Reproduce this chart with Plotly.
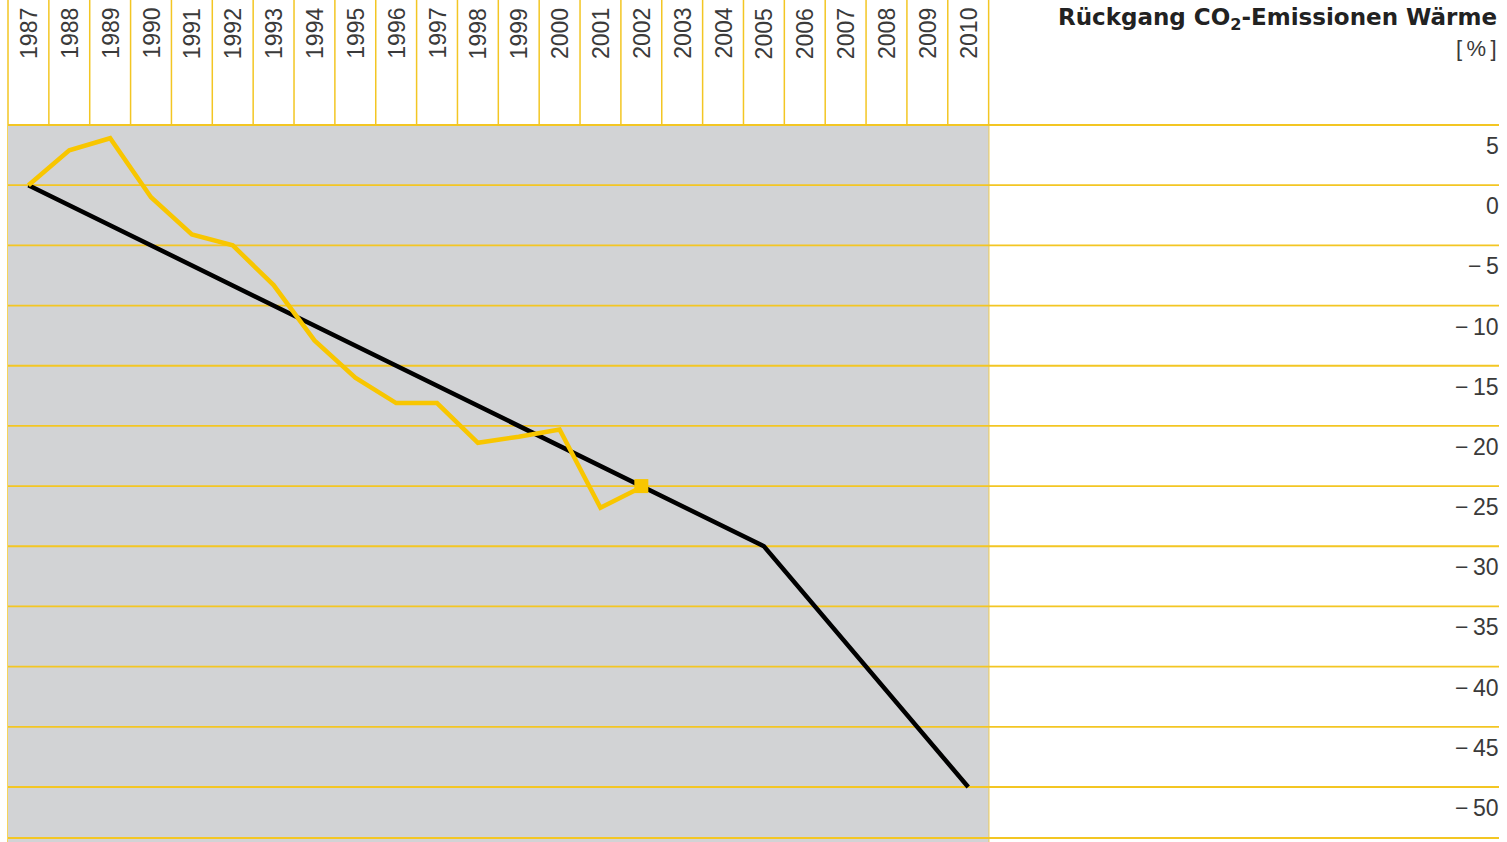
import plotly.graph_objects as go

years = list(range(1987, 2011))
year_labels = [str(y) for y in years]

# Target path (black)
target_years = [1987, 2005, 2010]
target_values = [0, -30, -50]

# Actual CO2 reduction (yellow)
actual_years = list(range(1987, 2003))
actual_values = [0, 2.9, 3.9, -1.0, -4.1, -5.0, -8.3, -12.9, -16.0, -18.1, -18.1,
                 -21.4, -20.9, -20.3, -26.8, -25.1]

# Last reported value (square marker)
last_year = [2002]
last_value = [-25.0]

y_ticks = [5, 0, -5, -10, -15, -20, -25, -30, -35, -40, -45, -50]
y_tick_labels = ["5", "0", "\u2212\u20095", "\u2212\u200910", "\u2212\u200915", "\u2212\u200920",
                 "\u2212\u200925", "\u2212\u200930", "\u2212\u200935", "\u2212\u200940",
                 "\u2212\u200945", "\u2212\u200950"]

title_text = "<b>Rückgang CO<sub>2</sub>-Emissionen Wärme</b>"
unit_text = "[\u2009%\u2009]"

GRAY = "#d2d3d5"
GRID = "#f3c623"
YEL = "#f8c600"
TXT = "#3a3a3a"
FONT = "Liberation Sans, Arial, Helvetica, sans-serif"
TFONT = "DejaVu Sans, Liberation Sans, Arial, sans-serif"

px_per_year = 40.86
px_per_unit = 12.036
x_left = 1986.5 - 8 / px_per_year
x_right = 1986.5 + (1507 - 8) / px_per_year
y_top = 5 + 125 / px_per_unit
y_bot = -50 - 55 / px_per_unit
x_grid_end = 1986.5 + (1499 - 8) / px_per_year
y_bottom_line = -50 - 51 / px_per_unit

fig = go.Figure()

shapes = []
# gray panel
shapes.append(dict(type="rect", xref="x", yref="y", x0=years[0] - 0.5, x1=years[-1] + 0.5,
                   y0=y_bot - 1, y1=y_ticks[0], fillcolor=GRAY, line=dict(width=0), layer="below"))
# vertical year lines
for k in range(len(years) + 1):
    xv = years[0] - 0.5 + k
    shapes.append(dict(type="line", xref="x", yref="paper", x0=xv, x1=xv, y0=0, y1=1,
                       line=dict(color=GRID, width=1.5), layer="below"))
# horizontal lines
for yv in y_ticks + [y_bottom_line]:
    shapes.append(dict(type="line", xref="x", yref="y", x0=years[0] - 0.5, x1=x_grid_end,
                       y0=yv, y1=yv, line=dict(color=GRID, width=1.8), layer="below"))

fig.add_trace(go.Scatter(x=target_years, y=target_values, mode="lines",
                         line=dict(color="#000000", width=4.5), hoverinfo="skip"))
fig.add_trace(go.Scatter(x=actual_years, y=actual_values, mode="lines",
                         line=dict(color=YEL, width=4.5), hoverinfo="skip"))
fig.add_trace(go.Scatter(x=last_year, y=last_value, mode="markers",
                         marker=dict(symbol="square", size=14, color=YEL), hoverinfo="skip"))

annotations = []
for yr, lab in zip(years, year_labels):
    annotations.append(dict(x=yr, y=1, xref="x", yref="paper", text=lab, showarrow=False,
                            textangle=-90, xanchor="center", yanchor="top", yshift=-6,
                            font=dict(family=FONT, size=23, color=TXT)))
for yv, lab in zip(y_ticks, y_tick_labels):
    annotations.append(dict(x=x_grid_end, y=yv, xref="x", yref="y", text=lab, showarrow=False,
                            xanchor="right", yanchor="middle", yshift=-21, xshift=2,
                            font=dict(family=FONT, size=23, color=TXT)))
annotations.append(dict(x=1, y=1, xref="paper", yref="paper", text=title_text, showarrow=False,
                        xanchor="right", yanchor="top", xshift=-8, yshift=-2,
                        font=dict(family=TFONT, size=23, color="#222222")))
annotations.append(dict(x=1, y=1, xref="paper", yref="paper", text=unit_text, showarrow=False,
                        xanchor="right", yanchor="top", xshift=-8, yshift=-34,
                        font=dict(family=FONT, size=22, color=TXT)))

fig.update_layout(
    width=1507, height=842,
    margin=dict(l=0, r=0, t=0, b=0),
    paper_bgcolor="white", plot_bgcolor="white",
    showlegend=False,
    shapes=shapes, annotations=annotations,
    xaxis=dict(range=[x_left, x_right], visible=False, fixedrange=True),
    yaxis=dict(range=[y_bot, y_top], visible=False, fixedrange=True),
)

fig.write_html("out.html", config={"displayModeBar": False},
               post_script="document.body.style.margin='0';document.body.style.overflow='hidden';")
